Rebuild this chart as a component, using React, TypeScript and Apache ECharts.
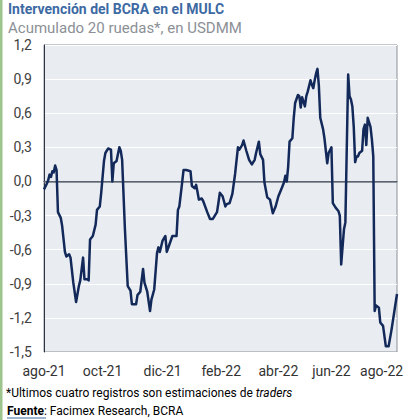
import React, { useEffect, useRef } from 'react';
import * as echarts from 'echarts';

// Trading-day index (0 = early Aug-21) and 20-day cumulative intervention (USD bn)
const dayIndex = [
  0, 2, 3, 4, 5, 6, 7, 8, 9, 10, 12, 13, 15, 16, 18, 19, 21, 23, 25, 26, 28, 29, 31, 32, 33, 35, 37, 38, 40, 41,
  43, 44, 46, 48, 49, 50, 52, 54, 55, 56, 58, 60, 62, 63, 66, 67, 69, 71, 72, 74, 76, 77, 79, 81, 82, 83, 85, 87, 88, 90,
  92, 95, 96, 97, 99, 100, 102, 105, 106, 108, 109, 110, 111, 113, 114, 117, 119, 121, 124, 125, 126, 128, 130, 131, 133, 135, 137, 139, 140, 142,
  143, 145, 147, 149, 151, 152, 154, 155, 157, 158, 160, 162, 164, 165, 166, 168, 170, 172, 173, 174, 175, 176, 178, 179, 180, 182, 183, 184, 185, 187,
  188, 189, 191, 192, 193, 194, 195, 196, 197, 198, 200, 201, 203, 204, 206, 207, 209, 211, 212, 213, 215, 216, 218, 219, 220, 221, 222, 223, 224, 225,
  226, 228, 229, 230, 231, 232, 234, 235, 236, 237, 238, 240, 241, 243, 245, 247, 249, 251, 253,
];
const values = [
  -0.07, -0.02, 0.01, 0.06, 0.04, 0.09, 0.08, 0.14, 0.1, -0.27, -0.32, -0.39, -0.62, -0.66, -0.64, -0.67, -0.89, -1.06, -0.92, -0.87, -0.67, -0.86, -0.86, -0.87, -0.51, -0.48, -0.38, -0.25, -0.22, -0.1,
  0.18, 0.25, 0.29, 0.28, 0.0, 0.16, 0.18, 0.3, 0.27, 0.19, -0.42, -0.92, -0.96, -1.08, -1.08, -1.0, -0.97, -0.77, -0.89, -0.97, -1.14, -1.04, -0.95, -0.63, -0.58, -0.62, -0.52, -0.48, -0.62, -0.55,
  -0.48, -0.48, -0.25, -0.22, -0.01, 0.1, 0.1, 0.09, -0.04, -0.06, -0.03, -0.09, -0.16, -0.15, -0.17, -0.27, -0.33, -0.33, -0.27, -0.19, -0.1, -0.13, -0.22, -0.2, -0.19, -0.11, 0.07, 0.3, 0.28, 0.32,
  0.36, 0.27, 0.19, 0.15, 0.19, 0.25, 0.35, 0.24, 0.19, -0.01, -0.14, -0.16, -0.28, -0.25, -0.22, -0.13, -0.07, -0.01, 0.05, 0.0, 0.13, 0.35, 0.38, 0.56, 0.69, 0.76, 0.75, 0.65, 0.74, 0.66,
  0.75, 0.79, 0.89, 0.85, 0.82, 0.89, 0.95, 0.99, 0.84, 0.56, 0.46, 0.38, 0.16, 0.25, 0.3, -0.19, -0.23, -0.26, -0.3, -0.73, -0.42, -0.36, 0.94, 0.75, 0.72, 0.66, 0.48, 0.17, 0.22, 0.22,
  0.25, 0.27, 0.46, 0.5, 0.32, 0.56, 0.48, 0.37, 0.22, -1.14, -1.09, -1.11, -1.24, -1.27, -1.45, -1.45, -1.31, -1.15, -0.99,
];
const TOTAL_DAYS = 254;
const tickIndex = [0, 42, 85, 127, 168, 206, 242];
const tickLabels = ['ago-21', 'oct-21', 'dic-21', 'feb-22', 'abr-22', 'jun-22', 'ago-22'];

const FONT = 'Roboto, "Noto Sans", sans-serif';

export default function App() {
  const ref = useRef<HTMLDivElement>(null);
  useEffect(() => {
    const chart = echarts.init(ref.current!, null, { renderer: 'svg' });
    const categories = Array.from({ length: TOTAL_DAYS }, (_, i) => String(i));
    const labelMap: Record<number, string> = {};
    tickIndex.forEach((t, i) => (labelMap[t] = tickLabels[i]));
    chart.setOption({
      animation: false,
      backgroundColor: '#ffffff',
      textStyle: { fontFamily: FONT },
      grid: {
        left: 44,
        right: 23,
        top: 45,
        bottom: 68,
        show: true,
        backgroundColor: '#e9edf2',
        borderColor: '#8a9098',
        borderWidth: 1,
      },
      xAxis: {
        type: 'category',
        data: categories,
        boundaryGap: false,
        axisLine: { show: true, lineStyle: { color: '#2e3440', width: 1 } },
        axisTick: { show: false },
        splitLine: { show: false },
        axisLabel: {
          interval: (index: number) => labelMap[index] !== undefined,
          formatter: (value: string) => labelMap[Number(value)] ?? '',
          fontSize: 14,
          color: '#333333',
          margin: 12,
          fontFamily: FONT,
        },
      },
      yAxis: {
        type: 'value',
        min: -1.5,
        max: 1.2,
        interval: 0.3,
        axisLine: { show: true, lineStyle: { color: '#2e3440', width: 1 } },
        axisTick: { show: false },
        splitLine: { show: true, lineStyle: { color: '#ffffff', width: 1 } },
        axisLabel: {
          formatter: (v: number) => (Math.abs(v) < 1e-9 ? '0,0' : v.toFixed(1).replace('.', ',')),
          fontSize: 14,
          color: '#404040',
          margin: 12,
          fontFamily: FONT,
        },
      },
      series: [
        {
          type: 'line',
          data: dayIndex.map((d, i) => [d, values[i]]),
          showSymbol: false,
          symbol: 'none',
          lineStyle: { color: '#13295a', width: 2.5, join: 'round' },
          z: 3,
          markLine: {
            silent: true,
            symbol: 'none',
            label: { show: false },
            lineStyle: { color: '#6c7580', width: 1.5, type: 'solid' },
            data: [{ yAxis: 0 }],
            z: 2,
          },
        },
      ],
      graphic: [
        { type: 'rect', shape: { x: 0, y: 0, width: 2.5, height: 420 }, style: { fill: '#9cc48c' } },
        {
          type: 'text',
          x: 8,
          y: 9,
          style: {
            text: 'Intervención del BCRA en el MULC',
            font: `bold 14px ${FONT}`,
            fill: '#3d6aa3',
            verticalAlign: 'middle',
          },
        },
        {
          type: 'text',
          x: 8,
          y: 28,
          style: {
            text: 'Acumulado 20 ruedas*, en USDMM',
            font: `15px ${FONT}`,
            fill: '#8c9096',
            verticalAlign: 'middle',
          },
        },
        {
          type: 'text',
          x: 6,
          y: 393,
          style: {
            text: '{a|*Ultimos cuatro registros son estimaciones de }{b|traders}',
            verticalAlign: 'middle',
            rich: {
              a: { fontSize: 12, fontFamily: FONT, color: '#8a93a0' },
              b: { fontSize: 12, fontFamily: FONT, color: '#8a93a0', fontStyle: 'italic' },
            },
          },
        },
        {
          type: 'text',
          x: 7,
          y: 411,
          style: {
            text: '{a|Fuente}{b|: Facimex Research, BCRA}',
            verticalAlign: 'middle',
            rich: {
              a: { fontSize: 12, fontFamily: FONT, color: '#3d6aa3', fontWeight: 'bold' },
              b: { fontSize: 12, fontFamily: FONT, color: '#8a93a0' },
            },
          },
        },
        {
          type: 'line',
          shape: { x1: 7, y1: 418, x2: 46, y2: 418 },
          style: { stroke: '#3d6aa3', lineWidth: 1 },
        },
      ],
    });
    return () => chart.dispose();
  }, []);
  return (
    <div
      ref={ref}
      style={{ position: 'fixed', left: 0, top: 0, width: 420, height: 420, background: '#ffffff' }}
    />
  );
}
